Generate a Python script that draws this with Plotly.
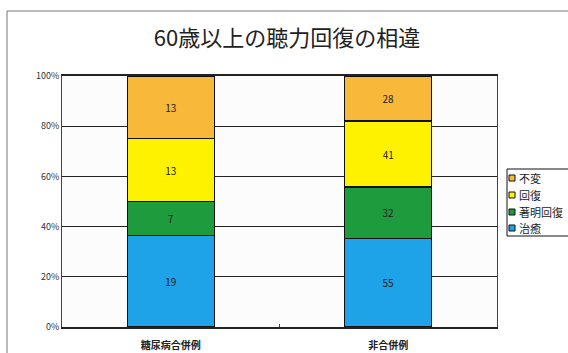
import plotly.graph_objects as go

# Hearing recovery outcome counts, patients aged 60 and over
categories = ["糖尿病合併例", "非合併例"]
series_names = ["治癒", "著明回復", "回復", "不変"]
cured = [19, 55]
marked = [7, 32]
recovered = [13, 41]
unchanged = [13, 28]
series_values = [cured, marked, recovered, unchanged]
series_colors = ["#1EA2E8", "#1E9B3C", "#FFF200", "#F8B83A"]

tick_vals = [0, 20, 40, 60, 80, 100]
tick_text = ["0%", "20%", "40%", "60%", "80%", "100%"]

FONT = "Noto Sans CJK JP"

# Plot-area geometry in pixels (used to place the compact legend)
W, H = 568, 353
L, R, T, B = 62, 71, 76, 26
PW, PH = W - L - R, H - T - B


def px_x(x):
    return (x - L) / PW


def px_y(y):
    return (H - B - y) / PH


fig = go.Figure()
for name, vals, color in zip(series_names, series_values, series_colors):
    fig.add_trace(go.Bar(
        x=categories,
        y=vals,
        name=name,
        marker=dict(color=color, line=dict(color="#111111", width=1.2)),
        text=[str(v) for v in vals],
        textposition="inside",
        insidetextanchor="middle",
        textfont=dict(family=FONT, size=10, color="#222222"),
        width=0.4,
        showlegend=False,
    ))

fig.update_layout(
    width=W,
    height=H,
    barmode="stack",
    barnorm="percent",
    paper_bgcolor="white",
    plot_bgcolor="#fcfcfc",
    margin=dict(l=L, r=R, t=T, b=B, autoexpand=False),
    title=dict(
        text="60歳以上の聴力回復の相違",
        x=287 / W,
        xanchor="center",
        y=1 - 38 / H,
        yanchor="middle",
        font=dict(family=FONT, size=22, color="#222222"),
    ),
    font=dict(family=FONT, color="#222222"),
    uniformtext=dict(minsize=9, mode="show"),
)

fig.update_yaxes(
    range=[0, 100],
    tickvals=tick_vals,
    ticktext=tick_text,
    tickfont=dict(family=FONT, size=9, color="#333333"),
    showgrid=True,
    gridcolor="#222222",
    gridwidth=1,
    showline=True,
    linecolor="#444444",
    linewidth=1,
    mirror=True,
    zeroline=False,
    ticks="",
    ticklen=0,
)
fig.update_xaxes(
    tickvals=categories,
    ticktext=["<b>" + c + "</b>" for c in categories],
    tickfont=dict(family=FONT, size=10, color="#222222"),
    ticklabelstandoff=8,
    showline=True,
    linecolor="#222222",
    linewidth=1.5,
    mirror=True,
    ticks="inside",
    ticklen=3,
    tickcolor="#444444",
    tickson="boundaries",
    showgrid=False,
)

# Outer chart frame
fig.add_shape(
    type="rect",
    xref="paper", yref="paper",
    x0=px_x(7), x1=1.3,
    y0=-0.3, y1=px_y(11),
    line=dict(color="#777777", width=1),
    layer="below",
)

# Compact legend: box, small swatches and labels (top entry = last series)
fig.add_shape(
    type="rect",
    xref="paper", yref="paper",
    x0=px_x(507), x1=px_x(600),
    y0=px_y(236), y1=px_y(169),
    line=dict(color="#111111", width=1),
    fillcolor="white",
)
row_y = [178, 195, 212, 228]
for i, (name, color) in enumerate(zip(series_names[::-1], series_colors[::-1])):
    cy = row_y[i]
    fig.add_shape(
        type="rect",
        xref="paper", yref="paper",
        x0=px_x(509), x1=px_x(515),
        y0=px_y(cy + 3), y1=px_y(cy - 3),
        line=dict(color="#111111", width=1),
        fillcolor=color,
    )
    fig.add_annotation(
        xref="paper", yref="paper",
        x=px_x(517), y=px_y(cy),
        xanchor="left", yanchor="middle",
        text=name,
        showarrow=False,
        font=dict(family=FONT, size=11, color="#222222"),
    )

fig.write_html("out.html")
